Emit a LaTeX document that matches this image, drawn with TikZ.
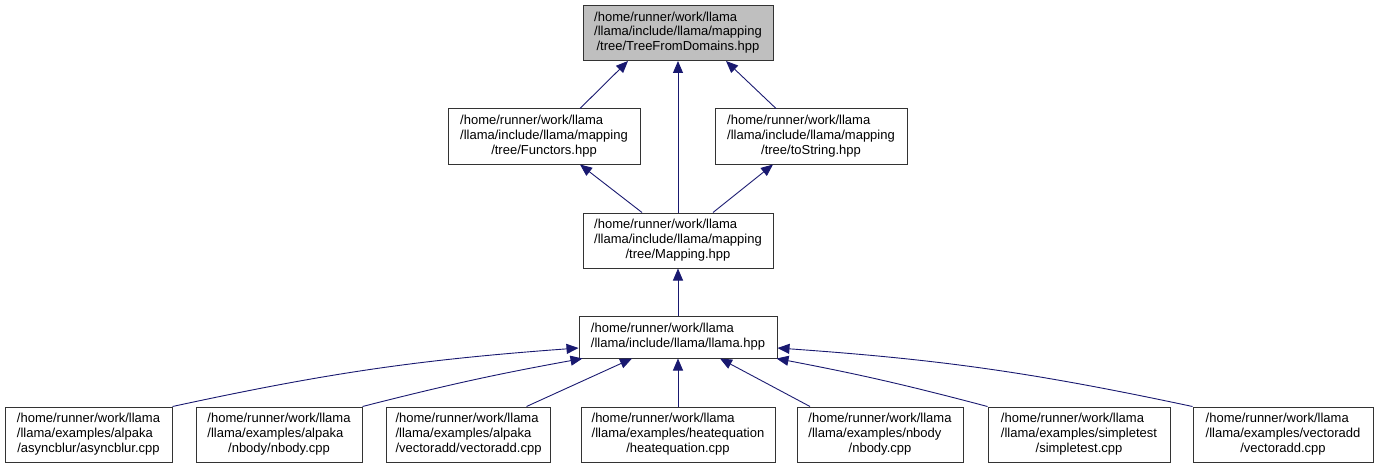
\documentclass[tikz,border=0pt]{standalone}
\usepackage{fontspec}
\setmainfont{Liberation Sans}
\usetikzlibrary{arrows.meta}

\definecolor{edgeblue}{HTML}{191970}
\definecolor{boxgray}{HTML}{BFBFBF}

% three lines: first two left, last one centred (doxygen style)
\newcommand{\filelabel}[3]{\begin{tabular}{@{}l@{}}#1\\#2\\\multicolumn{1}{@{}c@{}}{#3}\end{tabular}}

\tikzset{
	filebox/.style={draw=black!80, line width=1pt, minimum height=55pt, inner sep=0pt,
		font=\fontsize{13}{14.8}\selectfont},
	incl/.style={draw=edgeblue, line width=0.9pt, {Triangle[length=12pt,width=10pt]}-},
}

\begin{document}
\begin{tikzpicture}[x=1pt, y=-1pt]
	\useasboundingbox (0,0) rectangle (1378,468);
	% top file
	\node[filebox, fill=boxgray, minimum width=190pt] (tfd) at (678,33)
		{\filelabel{/home/runner/work/llama}{/llama/include/llama/mapping}{/tree/TreeFromDomains.hpp}};
	% second row
	\node[filebox, minimum width=192pt] (functors) at (544,136.5)
		{\filelabel{/home/runner/work/llama}{/llama/include/llama/mapping}{/tree/Functors.hpp}};
	\node[filebox, minimum width=192pt] (tostring) at (811,136.5)
		{\filelabel{/home/runner/work/llama}{/llama/include/llama/mapping}{/tree/toString.hpp}};
	\node[filebox, minimum width=190pt] (mapping) at (678,240.5)
		{\filelabel{/home/runner/work/llama}{/llama/include/llama/mapping}{/tree/Mapping.hpp}};
	% llama.hpp
	\node[filebox, minimum width=198pt, minimum height=42pt] (llama) at (678,337)
		{\begin{tabular}{@{}l@{}}/home/runner/work/llama\\/llama/include/llama/llama.hpp\end{tabular}};
	% examples
	\node[filebox, minimum width=167pt] (asyncblur) at (88.5,434.5)
		{\filelabel{/home/runner/work/llama}{/llama/examples/alpaka}{/asyncblur/asyncblur.cpp}};
	\node[filebox, minimum width=166pt] (nbodyalp) at (279,434.5)
		{\filelabel{/home/runner/work/llama}{/llama/examples/alpaka}{/nbody/nbody.cpp}};
	\node[filebox, minimum width=164pt] (vecalp) at (468.5,434.5)
		{\filelabel{/home/runner/work/llama}{/llama/examples/alpaka}{/vectoradd/vectoradd.cpp}};
	\node[filebox, minimum width=194pt] (heat) at (678,434.5)
		{\filelabel{/home/runner/work/llama}{/llama/examples/heatequation}{/heatequation.cpp}};
	\node[filebox, minimum width=166pt] (nbody) at (880,434.5)
		{\filelabel{/home/runner/work/llama}{/llama/examples/nbody}{/nbody.cpp}};
	\node[filebox, minimum width=182pt] (simple) at (1079,434.5)
		{\filelabel{/home/runner/work/llama}{/llama/examples/simpletest}{/simpletest.cpp}};
	\node[filebox, minimum width=180pt] (vecadd) at (1283,434.5)
		{\filelabel{/home/runner/work/llama}{/llama/examples/vectoradd}{/vectoradd.cpp}};

	% includes of the tree headers
	\draw[incl] ([xshift=-50pt]tfd.south) -- ([xshift=36pt]functors.north);
	\draw[incl] (tfd.south) -- (mapping.north);
	\draw[incl] ([xshift=48pt]tfd.south) -- ([xshift=-35pt]tostring.north);
	\draw[incl] ([xshift=36pt]functors.south) -- ([xshift=-36pt]mapping.north);
	\draw[incl] ([xshift=-38pt]tostring.south) -- ([xshift=35pt]mapping.north);
	\draw[incl] (mapping.south) -- (llama.north);
	% examples including llama.hpp
	\draw[incl] ([yshift=-11pt]llama.west) to[bend right=4] (asyncblur.north east);
	\draw[incl] ([xshift=4pt]llama.south west) to[bend right=2] (nbodyalp.north east);
	\draw[incl] ([xshift=-46pt]llama.south) -- ([xshift=58pt]vecalp.north);
	\draw[incl] (llama.south) -- (heat.north);
	\draw[incl] ([xshift=42pt]llama.south) -- ([xshift=-70pt]nbody.north);
	\draw[incl] ([xshift=-1pt]llama.south east) to[bend left=2] (simple.north west);
	\draw[incl] ([yshift=-11pt]llama.east) to[bend left=4] (vecadd.north west);
\end{tikzpicture}
\end{document}
